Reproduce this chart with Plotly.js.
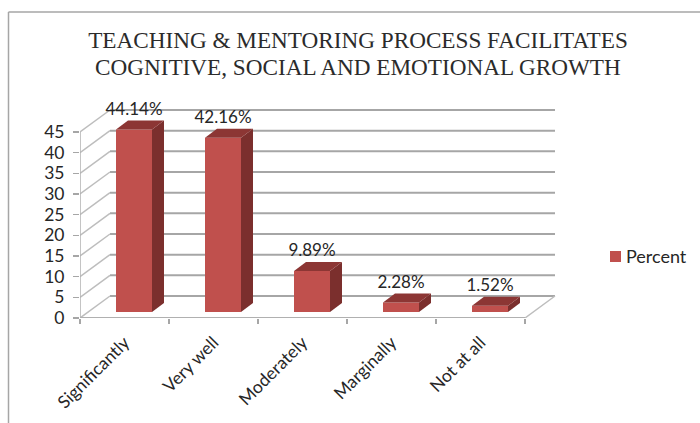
<!DOCTYPE html>
<html>
<head>
<meta charset="utf-8">
<script src="https://cdn.plot.ly/plotly-3.0.1.min.js"></script>
<style>html,body{margin:0;padding:0;background:#fff}</style>
</head>
<body>
<div id="chart" style="width:700px;height:423px"></div>
<script>
var titleLines = ["TEACHING &amp; MENTORING PROCESS FACILITATES", "COGNITIVE, SOCIAL AND EMOTIONAL GROWTH"];
var seriesName = "Percent";
var categories = ["Significantly", "Very well", "Moderately", "Marginally", "Not at all"];
var percentValues = [44.14, 42.16, 9.89, 2.28, 1.52];
var percentLabels = ["44.14%", "42.16%", "9.89%", "2.28%", "1.52%"];
var yTicks = [0, 5, 10, 15, 20, 25, 30, 35, 40, 45];

// fake 3d look, all in axis units
var pxX = 89, pxY = 4.133;
var wallDx = 30 / pxX, wallDy = 22 / pxY;
var barDx = 12 / pxX, barDy = 9 / pxY;
var barBase = 6 / pxY, barWidth = 36 / pxX, barShift = 9.5 / pxX;
var labelGap = 19 / pxY;

var centers = categories.map(function (c, i) { return i + 0.5 + barShift; });
var labelCenters = categories.map(function (c, i) { return i + 0.5; });
var xEnd = categories.length;

var data = [];
var shapes = [];

function wallLine(x0, y0, x1, y1, color, width) {
    shapes.push({type: 'line', layer: 'below', xref: 'x', yref: 'y', x0: x0, y0: y0, x1: x1, y1: y1, line: {color: color, width: width}});
}

// back wall gridlines and diagonals, under the bars
yTicks.forEach(function (t) {
    wallLine(wallDx, t + wallDy, xEnd + wallDx, t + wallDy, '#a6a6a6', 2);
    wallLine(0, t, wallDx, t + wallDy, '#bdbdbd', 1.5);
});
wallLine(xEnd, 0, xEnd + wallDx, wallDy, '#bdbdbd', 1.5);
wallLine(0, 0, 0, 45, '#b0b0b0', 1.5);
wallLine(0, 0, xEnd, 0, '#b0b0b0', 2);

// front faces
data.push({
    type: 'bar', name: seriesName, x: centers, y: percentValues, base: barBase, width: barWidth,
    marker: {color: '#c0504d'}, hoverinfo: 'skip', showlegend: false
});

// side and top faces
percentValues.forEach(function (v, i) {
    var r = centers[i] + barWidth / 2, l = centers[i] - barWidth / 2, b = barBase, t = barBase + v;
    data.push({x: [r, r + barDx, r + barDx, r, r], y: [b, b + barDy, t + barDy, t, b], mode: 'lines', fill: 'toself',
        fillcolor: '#7b2f2d', line: {width: 0}, showlegend: false, hoverinfo: 'skip'});
    data.push({x: [l, r, r + barDx, l + barDx, l], y: [t, t, t + barDy, t + barDy, t], mode: 'lines', fill: 'toself',
        fillcolor: '#8c3634', line: {width: 0}, showlegend: false, hoverinfo: 'skip'});
});

// value labels
data.push({
    x: centers, y: percentValues.map(function (v) { return barBase + v + labelGap; }),
    mode: 'text', text: percentLabels, textposition: 'middle center',
    textfont: {family: 'Lato, sans-serif', size: 17, color: '#262626'}, showlegend: false, hoverinfo: 'skip'
});

// chart frame and legend swatch
shapes.push({type: 'line', xref: 'paper', yref: 'paper', x0: -71.5 / 477, x1: -71.5 / 477, y0: -0.5, y1: (318 - 12) / 223, line: {color: '#a6a6a6', width: 1.5}});
shapes.push({type: 'line', xref: 'paper', yref: 'paper', x0: -71.5 / 477, x1: 1.5, y0: (318 - 12) / 223, y1: (318 - 12) / 223, line: {color: '#a6a6a6', width: 1.5}});
shapes.push({type: 'rect', xref: 'paper', yref: 'paper', x0: (610 - 80) / 477, x1: (621 - 80) / 477, y0: (318 - 262) / 223, y1: (318 - 251) / 223, fillcolor: '#c0504d', line: {width: 0}});

var layout = {
    width: 700, height: 423,
    margin: {l: 80, r: 143, t: 95, b: 105},
    paper_bgcolor: '#fff', plot_bgcolor: '#fff',
    showlegend: false,
    title: {
        text: titleLines[0],
        font: {family: '"Liberation Serif", serif', size: 23.2, color: '#2b2b2b'},
        x: 358 / 700, xanchor: 'center', y: 1 - 40 / 423, yanchor: 'middle'
    },
    xaxis: {
        range: [0, 477 / pxX], tickmode: 'array', tickvals: labelCenters, ticktext: categories, tickangle: -45,
        ticks: '', showgrid: false, zeroline: false, ticklabelstandoff: 10,
        tickfont: {family: 'Lato, sans-serif', size: 17.5, color: '#262626'},
        minor: {ticks: 'outside', tickmode: 'linear', tick0: 0, dtick: 1, ticklen: 5, tickcolor: '#a6a6a6', tickwidth: 1.5, showgrid: false}
    },
    yaxis: {
        range: [0, 223 / pxY], tickmode: 'array', tickvals: yTicks, ticks: 'outside', ticklen: 6,
        tickcolor: '#a6a6a6', tickwidth: 1.5, showgrid: false, zeroline: false, ticklabelstandoff: 5,
        tickfont: {family: 'Lato, sans-serif', size: 17.5, color: '#262626'}
    },
    annotations: [
        {text: titleLines[1], xref: 'paper', yref: 'paper', x: (358 - 80) / 477, y: (318 - 67) / 223, xanchor: 'center', yanchor: 'middle', showarrow: false,
            font: {family: '"Liberation Serif", serif', size: 23.2, color: '#2b2b2b'}},
        {text: seriesName, xref: 'paper', yref: 'paper', x: (624 - 80) / 477, y: (318 - 256) / 223, xanchor: 'left', yanchor: 'middle', showarrow: false,
            font: {family: 'Lato, sans-serif', size: 18, color: '#262626'}}
    ],
    shapes: shapes
};

Plotly.newPlot('chart', data, layout, {displayModeBar: false, staticPlot: true});
</script>
</body>
</html>
